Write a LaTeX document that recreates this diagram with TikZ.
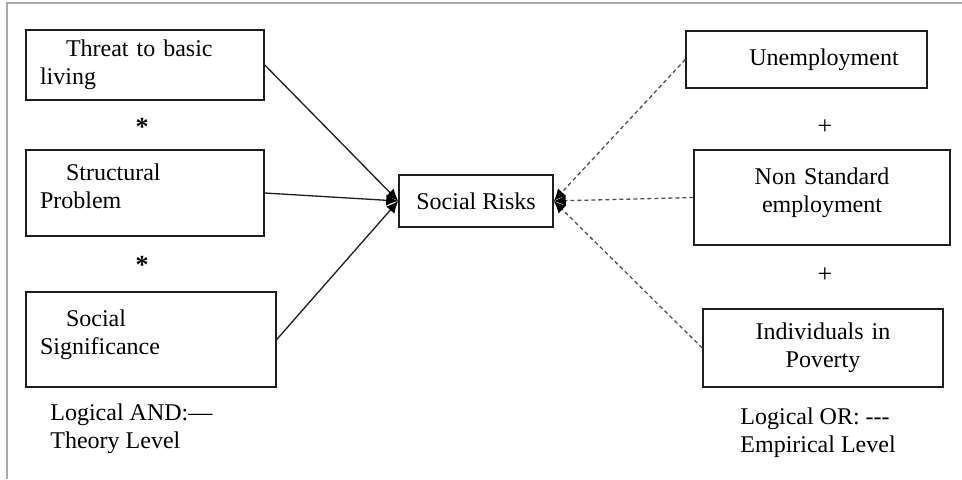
\documentclass[tikz,border=0pt]{standalone}
\usepackage{fontspec}
\setmainfont{Liberation Serif}
\usepackage{tikz}
\usetikzlibrary{arrows.meta, positioning, calc}
\definecolor{frameGray}{RGB}{170, 170, 170}
\definecolor{boxLine}{RGB}{30, 30, 30}
\definecolor{dashLine}{RGB}{80, 80, 80}
\newcommand{\liftline}{\\[-7pt]\mbox{}}
\tikzset{
    factor/.style={draw=boxLine, line width=0.75pt, inner sep=0pt,
                   font=\fontsize{12}{14}\selectfont},
    marker/.style={font=\fontsize{13}{14}\selectfont\bfseries, inner sep=1pt},
    note/.style={font=\fontsize{12}{14}\selectfont, align=left, inner sep=0pt},
    andline/.style={line width=0.65pt, draw=boxLine, -{Latex[length=6pt, width=5.5pt, black]}},
    orline/.style={line width=0.65pt, draw=dashLine, dash pattern=on 2pt off 1.5pt,
                   -{Latex[length=6pt, width=5.5pt, black]}}
}

\begin{document}
\begin{tikzpicture}[x=0.5pt, y=-0.5pt]
        \useasboundingbox (0,0) rectangle (962,479);
        % Frame
        \draw[frameGray, line width=0.75pt] (7,479) -- (7,3) -- (962,3);

        % Theory level (left)
        \node[factor, minimum width=119pt, minimum height=35pt,
              text width=105pt, align=left] (threat) at (145,65)
              {\hspace*{13pt}Threat to basic\\living};
        \node[marker] (andA) at (142,127) {*};
        \node[factor, minimum width=119pt, minimum height=43pt,
              text width=105pt, align=left] (structural) at (145,193)
              {\hspace*{13pt}Structural\\Problem\liftline};
        \node[marker] (andB) at (142,265) {*};
        \node[factor, minimum width=125pt, minimum height=47.5pt,
              text width=111pt, align=left] (significance) at (151,339.5)
              {\hspace*{13pt}Social\\Significance\liftline};

        % Center
        \node[factor, minimum width=77pt, minimum height=26pt] (risks) at (476,201)
              {Social Risks};

        % Empirical level (right)
        \node[factor, minimum width=120.5pt, minimum height=28.5pt,
              text width=110pt, align=center] (unemp) at (806.5,59.5)
              {\hspace*{17.5pt}Unemployment};
        \node[marker, font=\fontsize{13}{14}\selectfont] (orA) at (825,127) {+};
        \node[factor, minimum width=128pt, minimum height=47.5pt,
              text width=118pt, align=center] (nonstd) at (822,197.5)
              {Non Standard\\employment\liftline};
        \node[marker, font=\fontsize{13}{14}\selectfont] (orB) at (825,275) {+};
        \node[factor, minimum width=120pt, minimum height=39pt,
              text width=110pt, align=center] (indiv) at (823,348)
              {Individuals in\\Poverty};

        % Legends
        \node[note, anchor=west] (andnote) at (50,429) {Logical AND:—\\Theory Level};
        \node[note, anchor=west] (ornote) at (740,433) {Logical OR: -{}-{}-\\Empirical Level};

        % Connectors
        \foreach \src in {threat, structural, significance}
            \draw[andline] (\src.east) -- (risks.west);
        \foreach \src in {unemp, nonstd, indiv}
            \draw[orline] (\src.west) -- (risks.east);
    \end{tikzpicture}
\end{document}
